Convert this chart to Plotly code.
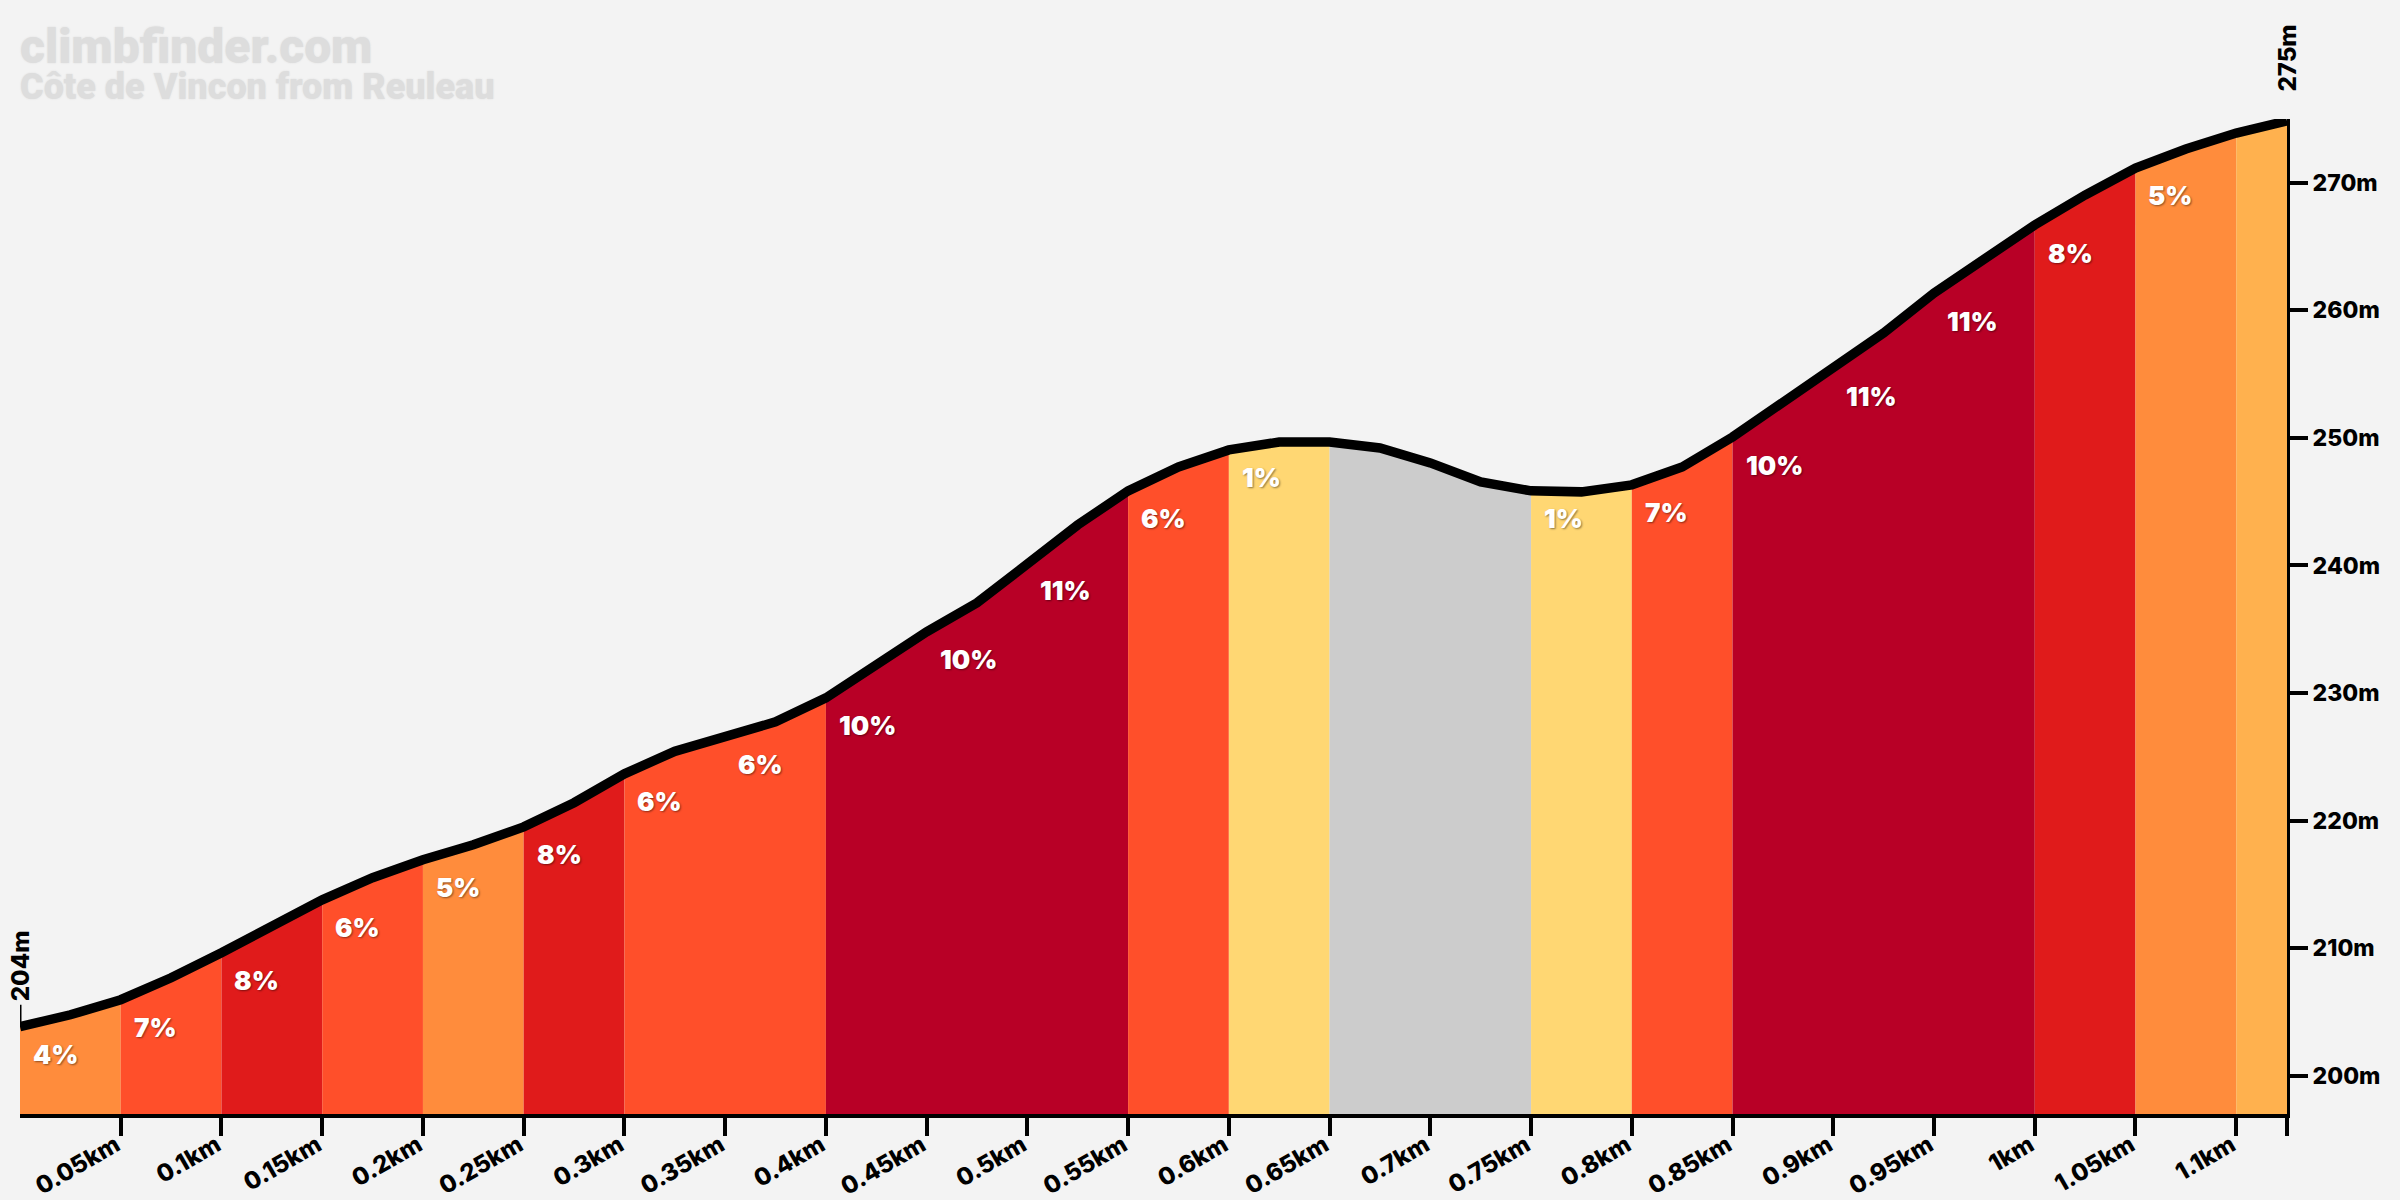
import plotly.graph_objects as go

# elevation profile, one reading every 25m of road
distance_km = [0, 0.025, 0.05, 0.075, 0.1, 0.125, 0.15, 0.175, 0.2, 0.225, 0.25, 0.275,
               0.3, 0.325, 0.35, 0.375, 0.4, 0.425, 0.45, 0.475, 0.5, 0.525, 0.55, 0.575,
               0.6, 0.625, 0.65, 0.675, 0.7, 0.725, 0.75, 0.775, 0.8, 0.825, 0.85, 0.875,
               0.9, 0.925, 0.95, 0.975, 1.0, 1.025, 1.05, 1.075, 1.1, 1.1252]
elevation_m = [203.84, 204.78, 205.96, 207.68, 209.64, 211.76, 213.79, 215.52, 216.93, 218.10,
               219.51, 221.40, 223.67, 225.43, 226.57, 227.74, 229.62, 232.21, 234.80, 237.07,
               240.20, 243.18, 245.85, 247.72, 249.06, 249.68, 249.68, 249.21, 248.04, 246.55,
               245.85, 245.77, 246.32, 247.72, 250.07, 252.82, 255.48, 258.23, 261.36, 264.10,
               266.69, 269.04, 271.16, 272.65, 273.90, 274.85]

# one entry per 50m section
grade_labels = ["4%", "7%", "8%", "6%", "5%", "8%", "6%", "6%", "10%", "10%", "11%", "6%",
                "1%", "", "", "1%", "7%", "10%", "11%", "11%", "8%", "5%", ""]
grade_colors = ["#FF8C3C", "#FF4F2A", "#E01B1B", "#FF4F2A", "#FF8C3C", "#E01B1B", "#FF4F2A",
                "#FF4F2A", "#B80026", "#B80026", "#B80026", "#FF4F2A", "#FFD773", "#CCCCCC",
                "#CCCCCC", "#FFD773", "#FF4F2A", "#B80026", "#B80026", "#B80026", "#E01B1B",
                "#FF8C3C", "#FFB14E"]

x_ticks = [0.05, 0.1, 0.15, 0.2, 0.25, 0.3, 0.35, 0.4, 0.45, 0.5, 0.55, 0.6, 0.65, 0.7, 0.75,
           0.8, 0.85, 0.9, 0.95, 1.0, 1.05, 1.1, 1.1252]
x_tick_labels = ["0.05km", "0.1km", "0.15km", "0.2km", "0.25km", "0.3km", "0.35km", "0.4km",
                 "0.45km", "0.5km", "0.55km", "0.6km", "0.65km", "0.7km", "0.75km", "0.8km",
                 "0.85km", "0.9km", "0.95km", "1km", "1.05km", "1.1km", ""]
y_ticks = [200, 210, 220, 230, 240, 250, 260, 270]
y_tick_labels = ["200m", "210m", "220m", "230m", "240m", "250m", "260m", "270m"]

site_title = "climbfinder.com"
climb_title = "Côte de Vincon from Reuleau"

LABEL_FONT = "Inter"
BG = "#F3F3F3"

fig = go.Figure()

# coloured sections under the profile, neighbours of the same colour share one shape
i = 0
while i < len(grade_colors):
    j = i
    while j + 1 < len(grade_colors) and grade_colors[j + 1] == grade_colors[i]:
        j += 1
    fig.add_trace(go.Scatter(
        x=distance_km[i * 2:j * 2 + 3],
        y=elevation_m[i * 2:j * 2 + 3],
        mode="lines",
        line=dict(width=0),
        fill="tozeroy",
        fillcolor=grade_colors[i],
        hoverinfo="skip",
    ))
    i = j + 1

# the profile line on top
fig.add_trace(go.Scatter(
    x=distance_km,
    y=elevation_m,
    mode="lines",
    line=dict(color="black", width=9.5),
    cliponaxis=False,
    hovertemplate="%{x}km: %{y}m<extra></extra>",
))

# grade labels sit just under the start of each section
for i, label in enumerate(grade_labels):
    if not label:
        continue
    fig.add_annotation(
        x=distance_km[i * 2],
        y=elevation_m[i * 2],
        text=label,
        showarrow=False,
        xanchor="left",
        yanchor="middle",
        xshift=11,
        yshift=-28,
        font=dict(family=LABEL_FONT, size=26, color="white", weight=900,
                  shadow="1px 1px 2px rgba(0,0,0,0.45)"),
    )

# start and finish markers
for km, elev, name, gap in [(distance_km[0], 204, "204m", 21), (distance_km[-1], 275, "275m", 25)]:
    fig.add_shape(
        type="line",
        xref="x", yref="y",
        x0=km, x1=km,
        ysizemode="pixel",
        yanchor=elev,
        y0=0, y1=20,
        line=dict(color="black", width=3),
    )
    fig.add_annotation(
        x=km,
        y=elev,
        text=name,
        showarrow=False,
        textangle=-90,
        xanchor="center",
        yanchor="bottom",
        yshift=gap,
        font=dict(family=LABEL_FONT, size=24, color="black", weight=800),
    )

fig.add_annotation(
    xref="paper", yref="paper",
    x=-0.001, y=1 + (119 - 46) / 995,
    yanchor="middle",
    xanchor="left",
    text=site_title,
    showarrow=False,
    font=dict(family="Roboto", size=48, color="#DDDDDD", weight=900,
              shadow="0 0 2px #DDDDDD"),
)
fig.add_annotation(
    xref="paper", yref="paper",
    x=-0.001, y=1 + (119 - 87) / 995,
    yanchor="middle",
    xanchor="left",
    text=climb_title,
    showarrow=False,
    font=dict(family="Roboto", size=36, color="#DDDDDD", weight=900,
              shadow="0 0 2px #DDDDDD"),
)

fig.update_layout(
    width=2400,
    height=1200,
    margin=dict(l=20, r=113, t=119, b=86),
    paper_bgcolor=BG,
    plot_bgcolor=BG,
    showlegend=False,
    font=dict(family=LABEL_FONT, color="black"),
)

fig.update_xaxes(
    automargin=False,
    range=[0, distance_km[-1]],
    tickvals=x_ticks,
    ticktext=x_tick_labels,
    tickangle=-30,
    ticks="outside",
    ticklen=18,
    tickwidth=4,
    tickcolor="black",
    ticklabelstandoff=-14,
    ticklabelshift=-5,
    tickfont=dict(family=LABEL_FONT, size=24, color="black", weight=800),
    showline=True,
    linecolor="black",
    linewidth=4,
    showgrid=False,
    zeroline=False,
)
fig.update_yaxes(
    automargin=False,
    range=[197.0, 275],
    side="right",
    tickvals=y_ticks,
    ticktext=y_tick_labels,
    ticks="outside",
    ticklen=18,
    tickwidth=4,
    tickcolor="black",
    tickfont=dict(family=LABEL_FONT, size=23, color="black", weight=800),
    showline=True,
    linecolor="black",
    linewidth=3,
    showgrid=False,
    zeroline=False,
)

# page margin would push the figure 8px off
fig.write_html("out.html", config=dict(displayModeBar=False),
               post_script="document.body.style.margin='0';")
